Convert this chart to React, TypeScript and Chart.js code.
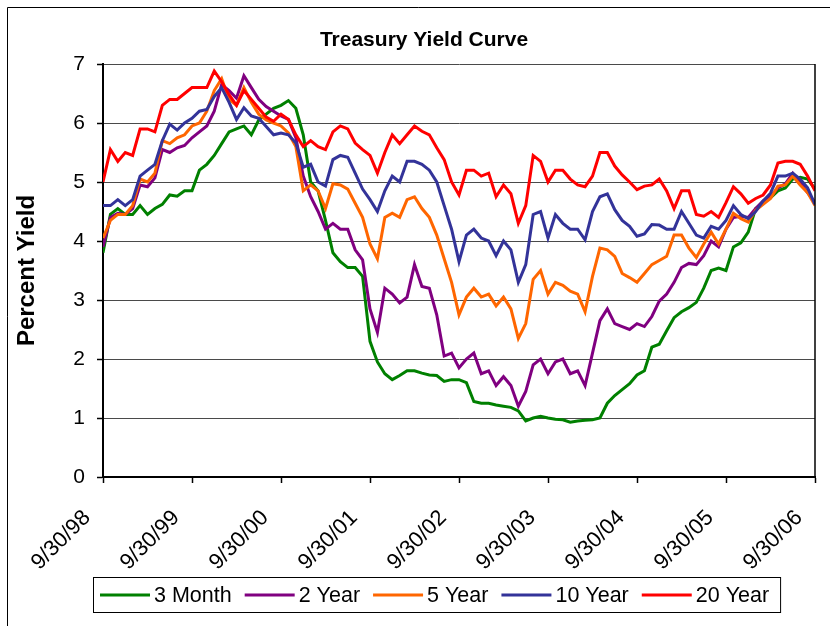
import React, { useEffect, useRef } from "react";
import { Chart, registerables } from "chart.js";

Chart.register(...registerables);

const FONT = '"Liberation Sans", Arial, Helvetica, sans-serif';

// x positions: months since 9/30/98 (0..96)
const monthIndex: number[] = Array.from({ length: 97 }, (_, i) => i);
const xTickLabels = ["9/30/98", "9/30/99", "9/30/00", "9/30/01", "9/30/02", "9/30/03", "9/30/04", "9/30/05", "9/30/06"];

const chartTitle = "Treasury Yield Curve";
const seriesNames = ["3 Month", "2 Year", "5 Year", "10 Year", "20 Year"];
const seriesColors = ["#008000", "#800080", "#FF6600", "#333399", "#FF0000"];

const threeMonth = [
  3.8, 4.45, 4.55, 4.45, 4.45, 4.6, 4.45, 4.55, 4.62, 4.78, 4.76, 4.85,
  4.85, 5.2, 5.3, 5.45, 5.65, 5.85, 5.9, 5.95, 5.8, 6.05, 6.15, 6.25,
  6.3, 6.38, 6.25, 5.8, 5.0, 4.85, 4.35, 3.8, 3.65, 3.55, 3.55, 3.4,
  2.3, 1.95, 1.75, 1.65, 1.72, 1.8, 1.8, 1.76, 1.73, 1.72, 1.62, 1.65,
  1.65, 1.6, 1.28, 1.25, 1.25, 1.22, 1.2, 1.18, 1.12, 0.95, 1.0, 1.03,
  1.0, 0.98, 0.97, 0.93, 0.95, 0.96, 0.97, 1.0, 1.25, 1.38, 1.48, 1.58,
  1.73, 1.8, 2.2, 2.25, 2.48, 2.7, 2.8, 2.87, 2.96, 3.2, 3.5, 3.54,
  3.5, 3.9, 3.97, 4.15, 4.55, 4.65, 4.73, 4.85, 4.9, 5.05, 5.08, 5.05,
  4.88,
];

const twoYear = [
  3.9, 4.4, 4.47, 4.45, 4.55, 4.95, 4.92, 5.07, 5.55, 5.5, 5.58, 5.62,
  5.75, 5.85, 5.95, 6.2, 6.65, 6.55, 6.42, 6.8, 6.6, 6.4, 6.28, 6.2,
  6.12, 6.06, 5.75, 5.1, 4.75, 4.5, 4.2, 4.3, 4.2, 4.2, 3.85, 3.68,
  2.85, 2.45, 3.2, 3.1, 2.95, 3.05, 3.6, 3.23, 3.2, 2.75, 2.05, 2.1,
  1.85, 2.0, 2.1, 1.75, 1.8, 1.55, 1.7, 1.55, 1.2, 1.45, 1.9, 2.0,
  1.75, 1.95, 2.0, 1.75, 1.8, 1.55, 2.1, 2.65, 2.85, 2.6, 2.55, 2.5,
  2.6, 2.55, 2.72, 2.98, 3.1, 3.3, 3.55, 3.62, 3.6, 3.75, 4.0, 3.9,
  4.2, 4.4, 4.42, 4.4, 4.55, 4.68, 4.75, 4.9, 4.97, 5.15, 5.0, 4.82,
  4.65,
];

const fiveYear = [
  4.05, 4.35, 4.45, 4.45, 4.6, 5.05, 5.0, 5.15, 5.7, 5.65, 5.75, 5.8,
  5.95, 6.0, 6.2, 6.55, 6.75, 6.4, 6.3, 6.6, 6.35, 6.15, 6.05, 6.0,
  5.95, 5.83, 5.6, 4.85, 4.95, 4.85, 4.55, 4.97, 4.95, 4.88, 4.64, 4.4,
  3.95, 3.7, 4.4, 4.47, 4.4, 4.7, 4.75, 4.55, 4.4, 4.1, 3.7, 3.3,
  2.75, 3.05, 3.2, 3.05, 3.1, 2.9, 3.05, 2.85, 2.35, 2.6, 3.35, 3.5,
  3.1, 3.3, 3.25, 3.15, 3.1, 2.8, 3.4, 3.88, 3.85, 3.74, 3.45, 3.38,
  3.3, 3.45, 3.6, 3.67, 3.74, 4.1, 4.1, 3.88, 3.72, 3.95, 4.15, 3.95,
  4.2, 4.47, 4.38, 4.32, 4.52, 4.62, 4.72, 4.93, 4.95, 5.1, 4.95, 4.82,
  4.6,
];

const tenYear = [
  4.6, 4.6, 4.7, 4.6, 4.7, 5.1, 5.2, 5.3, 5.7, 5.98, 5.88, 6.0,
  6.08, 6.2, 6.23, 6.45, 6.6, 6.35, 6.06, 6.26, 6.12, 6.08, 5.94, 5.8,
  5.83, 5.8, 5.66, 5.25, 5.3, 5.0, 4.93, 5.38, 5.45, 5.42, 5.15, 4.88,
  4.7, 4.5, 4.85, 5.1, 5.0, 5.35, 5.35, 5.3, 5.2, 5.0, 4.6, 4.2,
  3.65, 4.1, 4.2, 4.05, 4.0, 3.75, 4.0, 3.85, 3.3, 3.6, 4.45, 4.5,
  4.05, 4.45, 4.3, 4.2, 4.2, 4.02, 4.5, 4.75, 4.8, 4.53, 4.35, 4.25,
  4.08, 4.12, 4.28, 4.27, 4.2, 4.2, 4.5, 4.3, 4.1, 4.05, 4.25, 4.2,
  4.35, 4.6, 4.45, 4.38, 4.5, 4.68, 4.81, 5.1, 5.1, 5.15, 5.05, 4.9,
  4.62,
];

const twentyYear = [
  5.0, 5.55, 5.35, 5.5, 5.45, 5.9, 5.9, 5.85, 6.3, 6.4, 6.4, 6.5,
  6.6, 6.6, 6.6, 6.88, 6.7, 6.48, 6.3, 6.55, 6.4, 6.25, 6.1, 6.03,
  6.15, 6.06, 5.8, 5.6, 5.7, 5.6, 5.55, 5.85, 5.95, 5.9, 5.66, 5.55,
  5.45, 5.15, 5.5, 5.8, 5.65, 5.8, 5.95, 5.86, 5.8, 5.58, 5.38, 5.0,
  4.78, 5.2, 5.2, 5.1, 5.15, 4.75, 4.95, 4.8, 4.3, 4.6, 5.45, 5.35,
  5.0, 5.2, 5.2, 5.05, 4.95, 4.92, 5.1, 5.5, 5.5, 5.27, 5.12, 5.0,
  4.87, 4.93, 4.95, 5.05, 4.85, 4.55, 4.85, 4.85, 4.45, 4.42, 4.5, 4.4,
  4.65, 4.92, 4.8, 4.64, 4.72, 4.78, 4.95, 5.32, 5.35, 5.35, 5.3, 5.1,
  4.85,
];

const seriesValues = [threeMonth, twoYear, fiveYear, tenYear, twentyYear];

const framePlugin = {
  id: "frameAndLegend",
  afterDraw(chart: any) {
    const ctx = chart.ctx as CanvasRenderingContext2D;
    const area = chart.chartArea;
    ctx.save();
    // right border of plot area
    ctx.strokeStyle = "#000";
    ctx.lineWidth = 1.5;
    ctx.beginPath();
    ctx.moveTo(area.right, area.top);
    ctx.lineTo(area.right, area.bottom);
    ctx.stroke();
    // outer chart frame
    ctx.lineWidth = 1;
    ctx.beginPath();
    ctx.moveTo(7.5, chart.height);
    ctx.lineTo(7.5, 7.5);
    ctx.lineTo(chart.width, 7.5);
    ctx.stroke();
    // title
    ctx.fillStyle = "#000";
    ctx.font = `bold 21px ${FONT}`;
    ctx.textAlign = "center";
    ctx.textBaseline = "middle";
    ctx.fillText(chartTitle, 424, 40);
    // legend box
    ctx.font = `21.5px ${FONT}`;
    const ds = chart.data.datasets;
    const lineLen = 50;
    const gapText = 4;
    const gapItem = 13;
    const padL = 7;
    const padR = 11;
    const widths = ds.map((d: any) => lineLen + gapText + ctx.measureText(d.label).width);
    const total = widths.reduce((a: number, b: number) => a + b, 0) + gapItem * (ds.length - 1) + padL + padR;
    const left = 93;
    const top = 577;
    const h = 35;
    ctx.strokeStyle = "#000";
    ctx.lineWidth = 1;
    ctx.strokeRect(left + 0.5, top + 0.5, total, h);
    let x = left + padL;
    const cy = top + h / 2 + 0.5;
    ds.forEach((d: any, i: number) => {
      ctx.strokeStyle = d.borderColor;
      ctx.lineWidth = 3;
      ctx.beginPath();
      ctx.moveTo(x, cy);
      ctx.lineTo(x + lineLen, cy);
      ctx.stroke();
      ctx.fillStyle = "#000";
      ctx.textAlign = "left";
      ctx.textBaseline = "middle";
      ctx.fillText(d.label, x + lineLen + gapText, cy + 1);
      x += widths[i] + gapItem;
    });
    ctx.restore();
  },
};

export default function App() {
  const ref = useRef<HTMLCanvasElement | null>(null);

  useEffect(() => {
    if (!ref.current) return;
    const datasets = seriesValues.map((vals, i) => ({
      label: seriesNames[i],
      data: vals.map((v, j) => ({ x: monthIndex[j], y: v })),
      borderColor: seriesColors[i],
      backgroundColor: seriesColors[i],
      borderWidth: 3,
      pointRadius: 0,
      tension: 0,
      fill: false,
      order: seriesValues.length - i,
    }));

    const chart = new Chart(ref.current, {
      type: "line",
      data: { datasets },
      plugins: [framePlugin],
      options: {
        responsive: false,
        animation: false,
        devicePixelRatio: 1,
        layout: { padding: { left: 8, top: 64, right: 15, bottom: 49 } },
        plugins: {
          legend: { display: false },
          tooltip: { enabled: false },
          title: { display: false },
        },
        scales: {
          x: {
            type: "linear",
            min: 0,
            max: 96,
            afterFit: (s: any) => {
              s.height = 100;
              s.paddingLeft = 0;
              s.paddingRight = 0;
            },
            ticks: {
              stepSize: 12,
              autoSkip: false,
              maxRotation: 45,
              minRotation: 45,
              padding: 22,
              labelOffset: -16,
              color: "#000",
              font: { family: FONT, size: 22 },
              callback: (v: any) => xTickLabels[Math.round(Number(v) / 12)] ?? "",
            },
            grid: {
              drawOnChartArea: false,
              drawTicks: true,
              tickLength: 6,
              tickColor: "#000",
              tickWidth: 1.5,
            },
            border: { display: true, color: "#000", width: 2 },
          },
          y: {
            min: 0,
            max: 7,
            afterFit: (s: any) => {
              s.width = 95;
              s.paddingTop = 0;
              s.paddingBottom = 0;
            },
            ticks: {
              stepSize: 1,
              padding: 12,
              color: "#000",
              font: { family: FONT, size: 21 },
            },
            grid: {
              color: "#4a4a4a",
              lineWidth: 1,
              tickLength: 6,
              tickColor: "#000",
              tickWidth: 1.5,
            },
            border: { display: true, color: "#000", width: 2 },
            title: {
              display: true,
              text: "Percent Yield",
              color: "#000",
              font: { family: FONT, size: 24, weight: "bold" },
              padding: { top: 5, bottom: 0 },
            },
          },
        },
      },
    });
    return () => chart.destroy();
  }, []);

  return (
    <div style={{ position: "absolute", left: 0, top: 0, width: 830, height: 626, background: "#fff" }}>
      <canvas ref={ref} width={830} height={626} style={{ display: "block", width: 830, height: 626 }} />
    </div>
  );
}
